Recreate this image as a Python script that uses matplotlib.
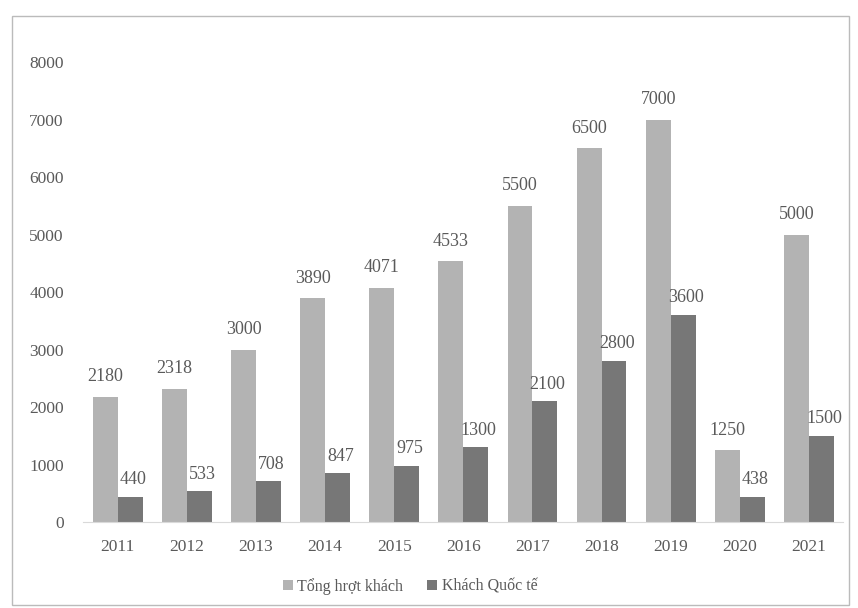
import numpy as np
import matplotlib.pyplot as plt
from matplotlib.patches import Rectangle

years = ['2011', '2012', '2013', '2014', '2015', '2016', '2017', '2018', '2019', '2020', '2021']
tong_luot = [2180, 2318, 3000, 3890, 4071, 4533, 5500, 6500, 7000, 1250, 5000]
quoc_te = [440, 533, 708, 847, 975, 1300, 2100, 2800, 3600, 438, 1500]

plt.rcParams['font.family'] = ['Liberation Serif', 'DejaVu Serif']
txt = '#5a5a5a'
light = '#b3b3b3'
dark = '#777777'

fig = plt.figure(figsize=(8.58, 6.08), dpi=100)
ax = fig.add_axes([0.097, 0.1414, 0.886, 0.7566])

x = np.arange(len(years))
w = 0.36
ax.bar(x - w / 2, tong_luot, w, color=light, label='Tổng hrợt khách')
ax.bar(x + w / 2, quoc_te, w, color=dark, label='Khách Quốc tế')

for xi, v in zip(x, tong_luot):
    ax.text(xi - w / 2, v + 200, str(v), ha='center', va='bottom', fontsize=13, color=txt)
for xi, v in zip(x, quoc_te):
    ax.text(xi + w / 2 + 0.04, v + 150, str(v), ha='center', va='bottom', fontsize=13, color=txt)

ax.set_xlim(-0.5, len(years) - 0.5)
ax.set_ylim(0, 8000)
ax.set_yticks(range(0, 8001, 1000))
ax.set_xticks(x)
ax.set_xticklabels(years)
ax.tick_params(length=0, labelsize=12.5, labelcolor=txt, pad=12)
ax.tick_params(axis='y', pad=14)
for s in ['top', 'right', 'left']:
    ax.spines[s].set_visible(False)
ax.spines['bottom'].set_color('#d9d9d9')

ax.legend(loc='upper center', bbox_to_anchor=(0.43, -0.09), ncol=2, frameon=False,
          fontsize=11.5, labelcolor=txt, handlelength=0.6, handleheight=0.6,
          handletextpad=0.3, columnspacing=1.5)

fig.patches.append(Rectangle((0.014, 0.005), 0.976, 0.968, transform=fig.transFigure,
                             fill=False, edgecolor='#bbbbbb', linewidth=1))

fig.savefig('out.png', dpi=100)
